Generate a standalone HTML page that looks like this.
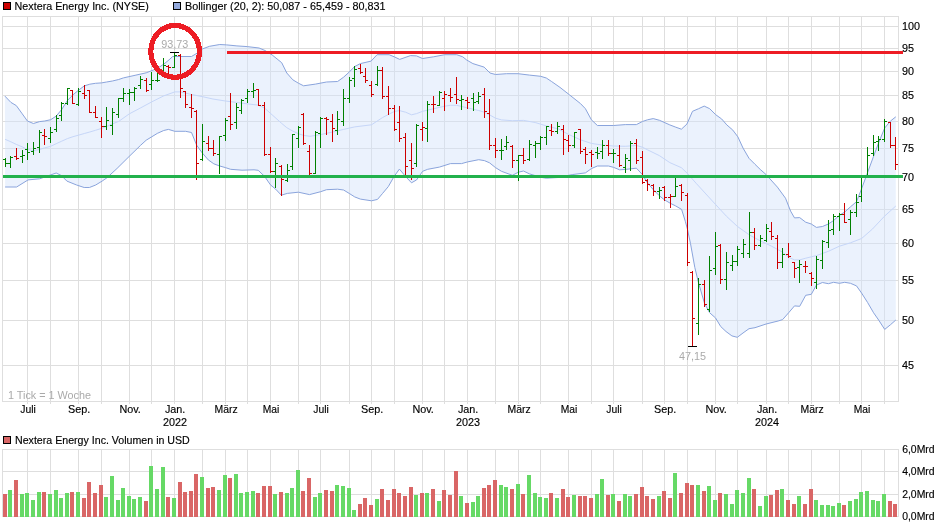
<!DOCTYPE html>
<html><head><meta charset="utf-8"><title>Nextera Energy Inc. Chart</title>
<style>html,body{margin:0;padding:0;background:#fff;}body{width:940px;height:526px;overflow:hidden;}svg{display:block;will-change:transform;font-family:"Liberation Sans",sans-serif;font-size:10.8px;}.g{stroke:#dedede;stroke-width:1;fill:none;shape-rendering:crispEdges}.bg{fill:#008000}.br{fill:#cc0000}.vg{fill:#66d966}.vr{fill:#d96666}</style></head><body>
<svg width="940" height="526" viewBox="0 0 940 526">
<rect x="0" y="0" width="940" height="526" fill="#fff"/>
<g class="g">
<line x1="2.5" y1="26.5" x2="898.5" y2="26.5"/>
<line x1="2.5" y1="48.5" x2="898.5" y2="48.5"/>
<line x1="2.5" y1="71.5" x2="898.5" y2="71.5"/>
<line x1="2.5" y1="95.5" x2="898.5" y2="95.5"/>
<line x1="2.5" y1="121.5" x2="898.5" y2="121.5"/>
<line x1="2.5" y1="148.5" x2="898.5" y2="148.5"/>
<line x1="2.5" y1="177.5" x2="898.5" y2="177.5"/>
<line x1="2.5" y1="209.5" x2="898.5" y2="209.5"/>
<line x1="2.5" y1="243.5" x2="898.5" y2="243.5"/>
<line x1="2.5" y1="280.5" x2="898.5" y2="280.5"/>
<line x1="2.5" y1="320.5" x2="898.5" y2="320.5"/>
<line x1="2.5" y1="365.5" x2="898.5" y2="365.5"/>
<line x1="27.5" y1="16.5" x2="27.5" y2="403.5"/>
<line x1="27.5" y1="449.5" x2="27.5" y2="516.5"/>
<line x1="50.5" y1="16.5" x2="50.5" y2="403.5"/>
<line x1="50.5" y1="449.5" x2="50.5" y2="516.5"/>
<line x1="78.5" y1="16.5" x2="78.5" y2="403.5"/>
<line x1="78.5" y1="449.5" x2="78.5" y2="516.5"/>
<line x1="101.5" y1="16.5" x2="101.5" y2="403.5"/>
<line x1="101.5" y1="449.5" x2="101.5" y2="516.5"/>
<line x1="129.5" y1="16.5" x2="129.5" y2="403.5"/>
<line x1="129.5" y1="449.5" x2="129.5" y2="516.5"/>
<line x1="151.5" y1="16.5" x2="151.5" y2="403.5"/>
<line x1="151.5" y1="449.5" x2="151.5" y2="516.5"/>
<line x1="174.5" y1="16.5" x2="174.5" y2="403.5"/>
<line x1="174.5" y1="449.5" x2="174.5" y2="516.5"/>
<line x1="202.5" y1="16.5" x2="202.5" y2="403.5"/>
<line x1="202.5" y1="449.5" x2="202.5" y2="516.5"/>
<line x1="225.5" y1="16.5" x2="225.5" y2="403.5"/>
<line x1="225.5" y1="449.5" x2="225.5" y2="516.5"/>
<line x1="247.5" y1="16.5" x2="247.5" y2="403.5"/>
<line x1="247.5" y1="449.5" x2="247.5" y2="516.5"/>
<line x1="270.5" y1="16.5" x2="270.5" y2="403.5"/>
<line x1="270.5" y1="449.5" x2="270.5" y2="516.5"/>
<line x1="298.5" y1="16.5" x2="298.5" y2="403.5"/>
<line x1="298.5" y1="449.5" x2="298.5" y2="516.5"/>
<line x1="320.5" y1="16.5" x2="320.5" y2="403.5"/>
<line x1="320.5" y1="449.5" x2="320.5" y2="516.5"/>
<line x1="349.5" y1="16.5" x2="349.5" y2="403.5"/>
<line x1="349.5" y1="449.5" x2="349.5" y2="516.5"/>
<line x1="371.5" y1="16.5" x2="371.5" y2="403.5"/>
<line x1="371.5" y1="449.5" x2="371.5" y2="516.5"/>
<line x1="394.5" y1="16.5" x2="394.5" y2="403.5"/>
<line x1="394.5" y1="449.5" x2="394.5" y2="516.5"/>
<line x1="422.5" y1="16.5" x2="422.5" y2="403.5"/>
<line x1="422.5" y1="449.5" x2="422.5" y2="516.5"/>
<line x1="444.5" y1="16.5" x2="444.5" y2="403.5"/>
<line x1="444.5" y1="449.5" x2="444.5" y2="516.5"/>
<line x1="467.5" y1="16.5" x2="467.5" y2="403.5"/>
<line x1="467.5" y1="449.5" x2="467.5" y2="516.5"/>
<line x1="495.5" y1="16.5" x2="495.5" y2="403.5"/>
<line x1="495.5" y1="449.5" x2="495.5" y2="516.5"/>
<line x1="518.5" y1="16.5" x2="518.5" y2="403.5"/>
<line x1="518.5" y1="449.5" x2="518.5" y2="516.5"/>
<line x1="540.5" y1="16.5" x2="540.5" y2="403.5"/>
<line x1="540.5" y1="449.5" x2="540.5" y2="516.5"/>
<line x1="568.5" y1="16.5" x2="568.5" y2="403.5"/>
<line x1="568.5" y1="449.5" x2="568.5" y2="516.5"/>
<line x1="591.5" y1="16.5" x2="591.5" y2="403.5"/>
<line x1="591.5" y1="449.5" x2="591.5" y2="516.5"/>
<line x1="613.5" y1="16.5" x2="613.5" y2="403.5"/>
<line x1="613.5" y1="449.5" x2="613.5" y2="516.5"/>
<line x1="642.5" y1="16.5" x2="642.5" y2="403.5"/>
<line x1="642.5" y1="449.5" x2="642.5" y2="516.5"/>
<line x1="664.5" y1="16.5" x2="664.5" y2="403.5"/>
<line x1="664.5" y1="449.5" x2="664.5" y2="516.5"/>
<line x1="687.5" y1="16.5" x2="687.5" y2="403.5"/>
<line x1="687.5" y1="449.5" x2="687.5" y2="516.5"/>
<line x1="715.5" y1="16.5" x2="715.5" y2="403.5"/>
<line x1="715.5" y1="449.5" x2="715.5" y2="516.5"/>
<line x1="737.5" y1="16.5" x2="737.5" y2="403.5"/>
<line x1="737.5" y1="449.5" x2="737.5" y2="516.5"/>
<line x1="766.5" y1="16.5" x2="766.5" y2="403.5"/>
<line x1="766.5" y1="449.5" x2="766.5" y2="516.5"/>
<line x1="788.5" y1="16.5" x2="788.5" y2="403.5"/>
<line x1="788.5" y1="449.5" x2="788.5" y2="516.5"/>
<line x1="811.5" y1="16.5" x2="811.5" y2="403.5"/>
<line x1="811.5" y1="449.5" x2="811.5" y2="516.5"/>
<line x1="839.5" y1="16.5" x2="839.5" y2="403.5"/>
<line x1="839.5" y1="449.5" x2="839.5" y2="516.5"/>
<line x1="861.5" y1="16.5" x2="861.5" y2="403.5"/>
<line x1="861.5" y1="449.5" x2="861.5" y2="516.5"/>
<line x1="884.5" y1="16.5" x2="884.5" y2="403.5"/>
<line x1="884.5" y1="449.5" x2="884.5" y2="516.5"/>
<rect x="2.5" y="16.5" width="896.0" height="385.0"/>
<line x1="2.5" y1="494.5" x2="898.5" y2="494.5"/>
<line x1="2.5" y1="471.5" x2="898.5" y2="471.5"/>
<rect x="2.5" y="449.5" width="896.0" height="67.0"/>
</g>
<polygon points="4.9,96.1 10.9,102.4 16.3,105.6 22.3,113.9 27.4,121.0 33.4,123.5 39.6,121.6 44.7,121.0 50.7,119.7 56.2,116.1 61.7,109.5 67.4,100.5 73.0,94.8 78.4,90.3 84.3,85.9 89.8,84.2 95.5,83.3 101.5,82.9 106.6,82.0 112.4,81.0 118.7,79.5 123.4,77.9 135.1,75.3 146.2,72.8 157.3,68.5 163.7,64.2 169.0,59.9 172.7,56.5 180.4,56.5 191.5,56.5 197.2,53.1 202.7,48.8 209.5,46.3 219.8,44.5 226.6,44.9 236.9,45.9 247.2,46.6 259.1,48.0 265.0,50.5 272.2,55.0 281.7,62.7 286.8,73.0 292.8,79.8 298.4,83.2 303.6,85.8 315.5,84.1 326.5,82.0 337.6,81.5 343.6,77.2 349.2,72.1 354.7,66.5 360.4,63.6 371.1,61.1 377.1,54.7 389.1,54.7 394.2,56.8 399.7,59.4 410.5,55.6 416.5,55.9 422.5,58.5 433.6,56.8 444.7,54.7 456.7,54.7 462.7,56.8 466.7,60.0 472.9,63.6 484.1,67.1 490.0,73.0 495.5,74.5 506.6,73.7 518.1,73.7 529.5,75.1 540.7,76.3 546.3,78.0 551.4,81.4 560.0,87.4 569.7,95.0 580.5,103.6 585.4,108.7 591.4,119.8 597.4,125.5 613.7,125.5 625.3,124.6 636.4,124.6 642.4,121.5 647.5,119.8 653.2,118.6 659.5,120.3 669.8,124.9 675.8,127.2 681.4,129.2 686.9,124.1 692.5,111.3 698.6,108.7 704.2,106.1 709.7,108.7 715.7,114.7 721.7,119.0 726.8,124.9 732.8,130.1 737.9,136.9 743.0,148.0 749.0,158.3 755.0,164.3 760.2,169.4 766.1,174.6 777.4,187.1 785.5,198.2 790.6,211.1 794.5,217.9 799.7,217.6 805.7,222.2 811.3,224.0 816.4,227.4 822.4,226.5 828.4,224.0 833.6,220.5 839.4,215.4 844.7,212.0 850.5,206.8 856.5,201.7 861.6,188.7 867.6,172.5 873.6,156.2 878.7,142.5 884.7,128.0 890.4,121.1 895.8,116.8 895.8,320.0 890.4,324.8 884.7,329.4 878.7,320.1 873.6,312.8 867.6,302.5 861.6,293.1 856.5,285.9 850.5,283.3 844.7,282.3 839.4,283.3 833.6,282.3 828.4,283.7 822.4,282.5 816.4,285.1 811.3,294.3 805.7,295.3 799.7,306.3 794.5,305.9 788.6,312.8 782.6,319.6 778.1,321.0 766.1,324.0 755.0,327.7 749.0,328.7 743.0,333.0 737.3,337.3 731.9,335.9 726.0,331.5 720.7,326.5 715.6,318.0 709.6,312.7 704.5,303.3 698.5,282.8 694.8,267.4 690.5,243.6 687.4,229.0 685.3,221.3 681.6,209.4 675.6,205.9 670.5,203.4 664.5,199.9 659.3,195.7 653.3,189.7 647.4,182.8 642.4,174.6 636.4,168.2 625.3,169.4 619.6,169.8 613.7,167.4 608.5,166.0 597.4,166.0 591.4,168.6 585.4,172.9 572.2,174.6 558.0,177.5 546.3,178.2 540.7,177.3 535.2,175.6 529.5,173.9 523.5,171.0 518.4,172.2 512.4,175.3 501.5,171.3 495.5,167.6 489.5,162.8 484.4,160.6 478.7,159.7 467.6,161.9 461.6,163.6 450.5,163.6 439.4,167.1 427.7,169.3 422.6,171.3 416.6,179.9 411.5,182.8 405.6,176.5 399.4,169.1 394.2,176.3 388.3,186.6 382.6,193.4 377.5,199.4 371.5,200.8 360.4,199.1 354.7,196.9 349.2,193.4 343.6,190.0 337.6,189.2 326.5,189.7 320.7,191.7 309.5,194.6 298.4,192.2 287.3,193.4 281.3,195.2 275.7,189.2 270.5,184.9 264.5,176.3 258.2,170.3 254.0,169.8 242.0,170.2 230.6,169.3 225.4,167.6 219.4,165.9 213.8,163.8 208.3,159.9 202.3,153.0 196.7,145.3 191.5,132.5 185.6,131.3 174.8,131.3 168.4,129.4 163.7,130.5 157.3,133.4 146.2,140.2 140.6,145.3 129.1,156.5 117.1,168.4 106.8,177.9 102.1,181.1 95.7,185.0 89.4,187.5 84.2,187.5 76.6,185.0 66.9,181.1 61.3,175.5 56.2,173.0 51.0,174.8 39.6,178.8 28.1,179.9 16.6,187.0 5.1,187.0" fill="#d3e2fa" fill-opacity="0.455" stroke="none"/>
<polyline points="5.1,139.3 10.9,141.8 16.3,144.4 22.3,146.9 27.4,149.5 33.4,150.7 39.6,149.5 44.7,147.9 50.7,146.3 56.2,143.7 61.7,141.2 67.4,138.6 73.0,136.7 78.4,135.2 84.3,133.5 89.8,132.0 95.5,130.3 101.5,128.4 106.6,126.5 112.4,123.9 118.7,121.4 129.4,113.8 140.6,107.9 151.7,101.9 163.7,95.9 174.8,91.9 180.4,91.9 191.5,94.5 202.7,96.7 212.9,99.0 225.4,101.0 236.4,102.4 247.5,103.9 258.2,105.1 264.5,108.0 272.2,114.9 281.7,123.4 286.8,127.7 292.8,131.1 298.4,133.7 303.6,135.4 309.9,136.3 320.7,134.6 332.6,132.0 343.6,129.4 354.7,126.9 371.5,124.8 382.6,117.5 394.2,111.5 399.4,110.6 405.6,112.2 411.5,114.8 416.6,113.6 422.6,111.3 433.4,108.8 444.5,106.2 450.5,105.3 456.5,105.3 467.6,107.9 478.7,110.5 484.4,112.2 489.5,114.8 495.5,118.2 501.5,119.9 512.4,120.7 523.5,120.4 535.2,122.5 546.3,125.9 558.6,129.0 568.5,134.4 580.5,139.8 591.4,143.4 602.5,145.1 613.7,146.0 625.3,146.3 636.4,145.5 642.4,147.2 647.5,149.8 659.5,155.7 669.8,162.6 681.4,167.7 686.9,172.9 696.5,183.7 715.3,204.2 726.4,216.2 737.5,226.5 749.5,235.0 760.6,241.0 771.4,246.1 782.5,252.1 788.6,257.3 794.5,259.9 799.7,259.9 805.7,258.2 816.4,255.6 828.4,251.3 839.4,246.2 850.5,242.8 861.6,238.5 872.4,229.1 884.4,216.3 895.8,206.0" fill="none" stroke="#c6d6f8" stroke-width="1"/>
<polyline points="4.9,96.1 10.9,102.4 16.3,105.6 22.3,113.9 27.4,121.0 33.4,123.5 39.6,121.6 44.7,121.0 50.7,119.7 56.2,116.1 61.7,109.5 67.4,100.5 73.0,94.8 78.4,90.3 84.3,85.9 89.8,84.2 95.5,83.3 101.5,82.9 106.6,82.0 112.4,81.0 118.7,79.5 123.4,77.9 135.1,75.3 146.2,72.8 157.3,68.5 163.7,64.2 169.0,59.9 172.7,56.5 180.4,56.5 191.5,56.5 197.2,53.1 202.7,48.8 209.5,46.3 219.8,44.5 226.6,44.9 236.9,45.9 247.2,46.6 259.1,48.0 265.0,50.5 272.2,55.0 281.7,62.7 286.8,73.0 292.8,79.8 298.4,83.2 303.6,85.8 315.5,84.1 326.5,82.0 337.6,81.5 343.6,77.2 349.2,72.1 354.7,66.5 360.4,63.6 371.1,61.1 377.1,54.7 389.1,54.7 394.2,56.8 399.7,59.4 410.5,55.6 416.5,55.9 422.5,58.5 433.6,56.8 444.7,54.7 456.7,54.7 462.7,56.8 466.7,60.0 472.9,63.6 484.1,67.1 490.0,73.0 495.5,74.5 506.6,73.7 518.1,73.7 529.5,75.1 540.7,76.3 546.3,78.0 551.4,81.4 560.0,87.4 569.7,95.0 580.5,103.6 585.4,108.7 591.4,119.8 597.4,125.5 613.7,125.5 625.3,124.6 636.4,124.6 642.4,121.5 647.5,119.8 653.2,118.6 659.5,120.3 669.8,124.9 675.8,127.2 681.4,129.2 686.9,124.1 692.5,111.3 698.6,108.7 704.2,106.1 709.7,108.7 715.7,114.7 721.7,119.0 726.8,124.9 732.8,130.1 737.9,136.9 743.0,148.0 749.0,158.3 755.0,164.3 760.2,169.4 766.1,174.6 777.4,187.1 785.5,198.2 790.6,211.1 794.5,217.9 799.7,217.6 805.7,222.2 811.3,224.0 816.4,227.4 822.4,226.5 828.4,224.0 833.6,220.5 839.4,215.4 844.7,212.0 850.5,206.8 856.5,201.7 861.6,188.7 867.6,172.5 873.6,156.2 878.7,142.5 884.7,128.0 890.4,121.1 895.8,116.8" fill="none" stroke="#8aa4dc" stroke-width="1"/>
<polyline points="5.1,187.0 16.6,187.0 28.1,179.9 39.6,178.8 51.0,174.8 56.2,173.0 61.3,175.5 66.9,181.1 76.6,185.0 84.2,187.5 89.4,187.5 95.7,185.0 102.1,181.1 106.8,177.9 117.1,168.4 129.1,156.5 140.6,145.3 146.2,140.2 157.3,133.4 163.7,130.5 168.4,129.4 174.8,131.3 185.6,131.3 191.5,132.5 196.7,145.3 202.3,153.0 208.3,159.9 213.8,163.8 219.4,165.9 225.4,167.6 230.6,169.3 242.0,170.2 254.0,169.8 258.2,170.3 264.5,176.3 270.5,184.9 275.7,189.2 281.3,195.2 287.3,193.4 298.4,192.2 309.5,194.6 320.7,191.7 326.5,189.7 337.6,189.2 343.6,190.0 349.2,193.4 354.7,196.9 360.4,199.1 371.5,200.8 377.5,199.4 382.6,193.4 388.3,186.6 394.2,176.3 399.4,169.1 405.6,176.5 411.5,182.8 416.6,179.9 422.6,171.3 427.7,169.3 439.4,167.1 450.5,163.6 461.6,163.6 467.6,161.9 478.7,159.7 484.4,160.6 489.5,162.8 495.5,167.6 501.5,171.3 512.4,175.3 518.4,172.2 523.5,171.0 529.5,173.9 535.2,175.6 540.7,177.3 546.3,178.2 558.0,177.5 572.2,174.6 585.4,172.9 591.4,168.6 597.4,166.0 608.5,166.0 613.7,167.4 619.6,169.8 625.3,169.4 636.4,168.2 642.4,174.6 647.4,182.8 653.3,189.7 659.3,195.7 664.5,199.9 670.5,203.4 675.6,205.9 681.6,209.4 685.3,221.3 687.4,229.0 690.5,243.6 694.8,267.4 698.5,282.8 704.5,303.3 709.6,312.7 715.6,318.0 720.7,326.5 726.0,331.5 731.9,335.9 737.3,337.3 743.0,333.0 749.0,328.7 755.0,327.7 766.1,324.0 778.1,321.0 782.6,319.6 788.6,312.8 794.5,305.9 799.7,306.3 805.7,295.3 811.3,294.3 816.4,285.1 822.4,282.5 828.4,283.7 833.6,282.3 839.4,283.3 844.7,282.3 850.5,283.3 856.5,285.9 861.6,293.1 867.6,302.5 873.6,312.8 878.7,320.1 884.7,329.4 890.4,324.8 895.8,320.0" fill="none" stroke="#8aa4dc" stroke-width="1"/>
<g shape-rendering="crispEdges">
<rect class="bg" x="5" y="158" width="1" height="9"/>
<rect class="bg" x="3" y="159" width="2" height="1"/>
<rect class="bg" x="6" y="163" width="2" height="1"/>
<rect class="bg" x="10" y="156" width="1" height="12"/>
<rect class="bg" x="8" y="163" width="2" height="1"/>
<rect class="bg" x="11" y="157" width="2" height="1"/>
<rect class="br" x="16" y="148" width="1" height="12"/>
<rect class="br" x="14" y="156" width="2" height="1"/>
<rect class="br" x="17" y="158" width="2" height="1"/>
<rect class="bg" x="22" y="150" width="1" height="13"/>
<rect class="bg" x="20" y="156" width="2" height="1"/>
<rect class="bg" x="23" y="155" width="2" height="1"/>
<rect class="bg" x="27" y="143" width="1" height="17"/>
<rect class="bg" x="25" y="149" width="2" height="1"/>
<rect class="bg" x="28" y="152" width="2" height="1"/>
<rect class="bg" x="33" y="142" width="1" height="13"/>
<rect class="bg" x="31" y="151" width="2" height="1"/>
<rect class="bg" x="34" y="148" width="2" height="1"/>
<rect class="bg" x="39" y="130" width="1" height="23"/>
<rect class="bg" x="37" y="147" width="2" height="1"/>
<rect class="bg" x="40" y="132" width="2" height="1"/>
<rect class="br" x="44" y="129" width="1" height="16"/>
<rect class="br" x="42" y="135" width="2" height="1"/>
<rect class="br" x="45" y="136" width="2" height="1"/>
<rect class="bg" x="50" y="127" width="1" height="16"/>
<rect class="bg" x="48" y="138" width="2" height="1"/>
<rect class="bg" x="51" y="132" width="2" height="1"/>
<rect class="bg" x="56" y="115" width="1" height="17"/>
<rect class="bg" x="54" y="129" width="2" height="1"/>
<rect class="bg" x="57" y="118" width="2" height="1"/>
<rect class="bg" x="61" y="102" width="1" height="19"/>
<rect class="bg" x="59" y="115" width="2" height="1"/>
<rect class="bg" x="62" y="103" width="2" height="1"/>
<rect class="bg" x="67" y="88" width="1" height="17"/>
<rect class="bg" x="65" y="103" width="2" height="1"/>
<rect class="bg" x="68" y="88" width="2" height="1"/>
<rect class="br" x="72" y="90" width="1" height="14"/>
<rect class="br" x="70" y="90" width="2" height="1"/>
<rect class="br" x="73" y="103" width="2" height="1"/>
<rect class="bg" x="78" y="88" width="1" height="18"/>
<rect class="bg" x="76" y="104" width="2" height="1"/>
<rect class="bg" x="79" y="91" width="2" height="1"/>
<rect class="br" x="84" y="85" width="1" height="14"/>
<rect class="br" x="82" y="93" width="2" height="1"/>
<rect class="br" x="85" y="95" width="2" height="1"/>
<rect class="br" x="89" y="90" width="1" height="23"/>
<rect class="br" x="87" y="90" width="2" height="1"/>
<rect class="br" x="90" y="112" width="2" height="1"/>
<rect class="br" x="95" y="106" width="1" height="12"/>
<rect class="br" x="93" y="112" width="2" height="1"/>
<rect class="br" x="96" y="117" width="2" height="1"/>
<rect class="br" x="101" y="117" width="1" height="21"/>
<rect class="br" x="99" y="121" width="2" height="1"/>
<rect class="br" x="102" y="126" width="2" height="1"/>
<rect class="bg" x="106" y="107" width="1" height="23"/>
<rect class="bg" x="104" y="126" width="2" height="1"/>
<rect class="bg" x="107" y="120" width="2" height="1"/>
<rect class="bg" x="112" y="108" width="1" height="27"/>
<rect class="bg" x="110" y="125" width="2" height="1"/>
<rect class="bg" x="113" y="112" width="2" height="1"/>
<rect class="bg" x="118" y="98" width="1" height="20"/>
<rect class="bg" x="116" y="114" width="2" height="1"/>
<rect class="bg" x="119" y="98" width="2" height="1"/>
<rect class="bg" x="123" y="88" width="1" height="14"/>
<rect class="bg" x="121" y="98" width="2" height="1"/>
<rect class="bg" x="124" y="93" width="2" height="1"/>
<rect class="bg" x="129" y="89" width="1" height="16"/>
<rect class="bg" x="127" y="93" width="2" height="1"/>
<rect class="bg" x="130" y="92" width="2" height="1"/>
<rect class="bg" x="134" y="87" width="1" height="14"/>
<rect class="bg" x="132" y="92" width="2" height="1"/>
<rect class="bg" x="135" y="88" width="2" height="1"/>
<rect class="bg" x="140" y="76" width="1" height="13"/>
<rect class="bg" x="138" y="85" width="2" height="1"/>
<rect class="bg" x="141" y="79" width="2" height="1"/>
<rect class="br" x="146" y="78" width="1" height="14"/>
<rect class="br" x="144" y="80" width="2" height="1"/>
<rect class="br" x="147" y="90" width="2" height="1"/>
<rect class="bg" x="151" y="72" width="1" height="18"/>
<rect class="bg" x="149" y="84" width="2" height="1"/>
<rect class="bg" x="152" y="80" width="2" height="1"/>
<rect class="bg" x="157" y="71" width="1" height="11"/>
<rect class="bg" x="155" y="80" width="2" height="1"/>
<rect class="bg" x="158" y="80" width="2" height="1"/>
<rect class="bg" x="163" y="58" width="1" height="16"/>
<rect class="bg" x="161" y="72" width="2" height="1"/>
<rect class="bg" x="164" y="65" width="2" height="1"/>
<rect class="br" x="168" y="65" width="1" height="9"/>
<rect class="br" x="166" y="66" width="2" height="1"/>
<rect class="br" x="169" y="67" width="2" height="1"/>
<rect class="bg" x="174" y="52" width="1" height="16"/>
<rect class="bg" x="172" y="67" width="2" height="1"/>
<rect class="bg" x="175" y="55" width="2" height="1"/>
<rect class="br" x="180" y="54" width="1" height="44"/>
<rect class="br" x="178" y="55" width="2" height="1"/>
<rect class="br" x="181" y="88" width="2" height="1"/>
<rect class="br" x="185" y="91" width="1" height="17"/>
<rect class="br" x="183" y="91" width="2" height="1"/>
<rect class="br" x="186" y="104" width="2" height="1"/>
<rect class="br" x="191" y="94" width="1" height="24"/>
<rect class="br" x="189" y="107" width="2" height="1"/>
<rect class="br" x="192" y="108" width="2" height="1"/>
<rect class="br" x="196" y="110" width="1" height="70"/>
<rect class="br" x="194" y="111" width="2" height="1"/>
<rect class="br" x="197" y="163" width="2" height="1"/>
<rect class="bg" x="202" y="124" width="1" height="37"/>
<rect class="bg" x="200" y="159" width="2" height="1"/>
<rect class="bg" x="203" y="141" width="2" height="1"/>
<rect class="br" x="208" y="136" width="1" height="15"/>
<rect class="br" x="206" y="143" width="2" height="1"/>
<rect class="br" x="209" y="148" width="2" height="1"/>
<rect class="br" x="213" y="140" width="1" height="16"/>
<rect class="br" x="211" y="148" width="2" height="1"/>
<rect class="br" x="214" y="153" width="2" height="1"/>
<rect class="bg" x="219" y="136" width="1" height="38"/>
<rect class="bg" x="217" y="154" width="2" height="1"/>
<rect class="bg" x="220" y="136" width="2" height="1"/>
<rect class="bg" x="225" y="118" width="1" height="23"/>
<rect class="bg" x="223" y="135" width="2" height="1"/>
<rect class="bg" x="226" y="120" width="2" height="1"/>
<rect class="br" x="230" y="93" width="1" height="37"/>
<rect class="br" x="228" y="116" width="2" height="1"/>
<rect class="br" x="231" y="124" width="2" height="1"/>
<rect class="bg" x="236" y="103" width="1" height="26"/>
<rect class="bg" x="234" y="122" width="2" height="1"/>
<rect class="bg" x="237" y="107" width="2" height="1"/>
<rect class="bg" x="241" y="99" width="1" height="15"/>
<rect class="bg" x="239" y="110" width="2" height="1"/>
<rect class="bg" x="242" y="100" width="2" height="1"/>
<rect class="bg" x="247" y="89" width="1" height="14"/>
<rect class="bg" x="245" y="98" width="2" height="1"/>
<rect class="bg" x="248" y="91" width="2" height="1"/>
<rect class="bg" x="253" y="83" width="1" height="15"/>
<rect class="bg" x="251" y="91" width="2" height="1"/>
<rect class="bg" x="254" y="90" width="2" height="1"/>
<rect class="br" x="258" y="89" width="1" height="17"/>
<rect class="br" x="256" y="89" width="2" height="1"/>
<rect class="br" x="259" y="105" width="2" height="1"/>
<rect class="br" x="264" y="102" width="1" height="54"/>
<rect class="br" x="262" y="105" width="2" height="1"/>
<rect class="br" x="265" y="154" width="2" height="1"/>
<rect class="br" x="270" y="147" width="1" height="26"/>
<rect class="br" x="268" y="154" width="2" height="1"/>
<rect class="br" x="271" y="171" width="2" height="1"/>
<rect class="bg" x="275" y="158" width="1" height="30"/>
<rect class="bg" x="273" y="171" width="2" height="1"/>
<rect class="bg" x="276" y="163" width="2" height="1"/>
<rect class="br" x="281" y="165" width="1" height="31"/>
<rect class="br" x="279" y="166" width="2" height="1"/>
<rect class="br" x="282" y="179" width="2" height="1"/>
<rect class="bg" x="287" y="164" width="1" height="18"/>
<rect class="bg" x="285" y="180" width="2" height="1"/>
<rect class="bg" x="288" y="170" width="2" height="1"/>
<rect class="bg" x="292" y="134" width="1" height="36"/>
<rect class="bg" x="290" y="166" width="2" height="1"/>
<rect class="bg" x="293" y="134" width="2" height="1"/>
<rect class="bg" x="298" y="126" width="1" height="22"/>
<rect class="bg" x="296" y="138" width="2" height="1"/>
<rect class="bg" x="299" y="127" width="2" height="1"/>
<rect class="br" x="303" y="113" width="1" height="32"/>
<rect class="br" x="301" y="114" width="2" height="1"/>
<rect class="br" x="304" y="143" width="2" height="1"/>
<rect class="br" x="309" y="145" width="1" height="30"/>
<rect class="br" x="307" y="151" width="2" height="1"/>
<rect class="br" x="310" y="173" width="2" height="1"/>
<rect class="bg" x="315" y="131" width="1" height="43"/>
<rect class="bg" x="313" y="173" width="2" height="1"/>
<rect class="bg" x="316" y="132" width="2" height="1"/>
<rect class="bg" x="320" y="117" width="1" height="31"/>
<rect class="bg" x="318" y="133" width="2" height="1"/>
<rect class="bg" x="321" y="118" width="2" height="1"/>
<rect class="br" x="326" y="117" width="1" height="18"/>
<rect class="br" x="324" y="118" width="2" height="1"/>
<rect class="br" x="327" y="119" width="2" height="1"/>
<rect class="br" x="332" y="114" width="1" height="28"/>
<rect class="br" x="330" y="121" width="2" height="1"/>
<rect class="br" x="333" y="128" width="2" height="1"/>
<rect class="bg" x="337" y="111" width="1" height="24"/>
<rect class="bg" x="335" y="130" width="2" height="1"/>
<rect class="bg" x="338" y="119" width="2" height="1"/>
<rect class="bg" x="343" y="89" width="1" height="37"/>
<rect class="bg" x="341" y="121" width="2" height="1"/>
<rect class="bg" x="344" y="98" width="2" height="1"/>
<rect class="bg" x="349" y="77" width="1" height="26"/>
<rect class="bg" x="347" y="98" width="2" height="1"/>
<rect class="bg" x="350" y="80" width="2" height="1"/>
<rect class="bg" x="354" y="66" width="1" height="21"/>
<rect class="bg" x="352" y="78" width="2" height="1"/>
<rect class="bg" x="355" y="69" width="2" height="1"/>
<rect class="br" x="360" y="64" width="1" height="10"/>
<rect class="br" x="358" y="68" width="2" height="1"/>
<rect class="br" x="361" y="72" width="2" height="1"/>
<rect class="br" x="365" y="68" width="1" height="15"/>
<rect class="br" x="363" y="76" width="2" height="1"/>
<rect class="br" x="366" y="80" width="2" height="1"/>
<rect class="br" x="371" y="81" width="1" height="16"/>
<rect class="br" x="369" y="85" width="2" height="1"/>
<rect class="br" x="372" y="94" width="2" height="1"/>
<rect class="bg" x="377" y="66" width="1" height="20"/>
<rect class="bg" x="375" y="84" width="2" height="1"/>
<rect class="bg" x="378" y="70" width="2" height="1"/>
<rect class="br" x="382" y="67" width="1" height="32"/>
<rect class="br" x="380" y="70" width="2" height="1"/>
<rect class="br" x="383" y="96" width="2" height="1"/>
<rect class="br" x="388" y="86" width="1" height="29"/>
<rect class="br" x="386" y="96" width="2" height="1"/>
<rect class="br" x="389" y="108" width="2" height="1"/>
<rect class="br" x="394" y="105" width="1" height="26"/>
<rect class="br" x="392" y="108" width="2" height="1"/>
<rect class="br" x="395" y="129" width="2" height="1"/>
<rect class="br" x="399" y="106" width="1" height="36"/>
<rect class="br" x="397" y="122" width="2" height="1"/>
<rect class="br" x="400" y="138" width="2" height="1"/>
<rect class="br" x="405" y="133" width="1" height="42"/>
<rect class="br" x="403" y="137" width="2" height="1"/>
<rect class="br" x="406" y="166" width="2" height="1"/>
<rect class="br" x="411" y="143" width="1" height="37"/>
<rect class="br" x="409" y="160" width="2" height="1"/>
<rect class="br" x="412" y="168" width="2" height="1"/>
<rect class="bg" x="416" y="124" width="1" height="43"/>
<rect class="bg" x="414" y="163" width="2" height="1"/>
<rect class="bg" x="417" y="125" width="2" height="1"/>
<rect class="br" x="422" y="122" width="1" height="19"/>
<rect class="br" x="420" y="129" width="2" height="1"/>
<rect class="br" x="423" y="127" width="2" height="1"/>
<rect class="bg" x="427" y="101" width="1" height="41"/>
<rect class="bg" x="425" y="128" width="2" height="1"/>
<rect class="bg" x="428" y="104" width="2" height="1"/>
<rect class="br" x="433" y="96" width="1" height="17"/>
<rect class="br" x="431" y="104" width="2" height="1"/>
<rect class="br" x="434" y="104" width="2" height="1"/>
<rect class="bg" x="439" y="91" width="1" height="15"/>
<rect class="bg" x="437" y="105" width="2" height="1"/>
<rect class="bg" x="440" y="92" width="2" height="1"/>
<rect class="br" x="444" y="91" width="1" height="20"/>
<rect class="br" x="442" y="98" width="2" height="1"/>
<rect class="br" x="445" y="94" width="2" height="1"/>
<rect class="br" x="450" y="88" width="1" height="14"/>
<rect class="br" x="448" y="95" width="2" height="1"/>
<rect class="br" x="451" y="97" width="2" height="1"/>
<rect class="br" x="456" y="77" width="1" height="27"/>
<rect class="br" x="454" y="94" width="2" height="1"/>
<rect class="br" x="457" y="99" width="2" height="1"/>
<rect class="bg" x="461" y="95" width="1" height="15"/>
<rect class="bg" x="459" y="100" width="2" height="1"/>
<rect class="bg" x="462" y="99" width="2" height="1"/>
<rect class="br" x="467" y="97" width="1" height="12"/>
<rect class="br" x="465" y="100" width="2" height="1"/>
<rect class="br" x="468" y="102" width="2" height="1"/>
<rect class="bg" x="473" y="93" width="1" height="18"/>
<rect class="bg" x="471" y="98" width="2" height="1"/>
<rect class="bg" x="474" y="102" width="2" height="1"/>
<rect class="bg" x="478" y="92" width="1" height="12"/>
<rect class="bg" x="476" y="101" width="2" height="1"/>
<rect class="bg" x="479" y="96" width="2" height="1"/>
<rect class="br" x="484" y="88" width="1" height="30"/>
<rect class="br" x="482" y="94" width="2" height="1"/>
<rect class="br" x="485" y="111" width="2" height="1"/>
<rect class="br" x="489" y="99" width="1" height="51"/>
<rect class="br" x="487" y="113" width="2" height="1"/>
<rect class="br" x="490" y="145" width="2" height="1"/>
<rect class="br" x="495" y="138" width="1" height="20"/>
<rect class="br" x="493" y="145" width="2" height="1"/>
<rect class="br" x="496" y="150" width="2" height="1"/>
<rect class="bg" x="501" y="139" width="1" height="21"/>
<rect class="bg" x="499" y="150" width="2" height="1"/>
<rect class="bg" x="502" y="150" width="2" height="1"/>
<rect class="bg" x="506" y="136" width="1" height="14"/>
<rect class="bg" x="504" y="146" width="2" height="1"/>
<rect class="bg" x="507" y="142" width="2" height="1"/>
<rect class="br" x="512" y="145" width="1" height="23"/>
<rect class="br" x="510" y="146" width="2" height="1"/>
<rect class="br" x="513" y="160" width="2" height="1"/>
<rect class="bg" x="518" y="155" width="1" height="26"/>
<rect class="bg" x="516" y="160" width="2" height="1"/>
<rect class="bg" x="519" y="155" width="2" height="1"/>
<rect class="br" x="523" y="148" width="1" height="16"/>
<rect class="br" x="521" y="155" width="2" height="1"/>
<rect class="br" x="524" y="160" width="2" height="1"/>
<rect class="bg" x="529" y="140" width="1" height="21"/>
<rect class="bg" x="527" y="159" width="2" height="1"/>
<rect class="bg" x="530" y="144" width="2" height="1"/>
<rect class="bg" x="535" y="141" width="1" height="17"/>
<rect class="bg" x="533" y="145" width="2" height="1"/>
<rect class="bg" x="536" y="143" width="2" height="1"/>
<rect class="bg" x="540" y="136" width="1" height="14"/>
<rect class="bg" x="538" y="143" width="2" height="1"/>
<rect class="bg" x="541" y="137" width="2" height="1"/>
<rect class="bg" x="546" y="126" width="1" height="19"/>
<rect class="bg" x="544" y="137" width="2" height="1"/>
<rect class="bg" x="547" y="126" width="2" height="1"/>
<rect class="br" x="551" y="124" width="1" height="12"/>
<rect class="br" x="549" y="130" width="2" height="1"/>
<rect class="br" x="552" y="131" width="2" height="1"/>
<rect class="bg" x="557" y="122" width="1" height="12"/>
<rect class="bg" x="555" y="131" width="2" height="1"/>
<rect class="bg" x="558" y="126" width="2" height="1"/>
<rect class="br" x="563" y="125" width="1" height="30"/>
<rect class="br" x="561" y="129" width="2" height="1"/>
<rect class="br" x="564" y="139" width="2" height="1"/>
<rect class="br" x="568" y="135" width="1" height="17"/>
<rect class="br" x="566" y="140" width="2" height="1"/>
<rect class="br" x="569" y="145" width="2" height="1"/>
<rect class="bg" x="574" y="132" width="1" height="16"/>
<rect class="bg" x="572" y="145" width="2" height="1"/>
<rect class="bg" x="575" y="132" width="2" height="1"/>
<rect class="br" x="580" y="129" width="1" height="25"/>
<rect class="br" x="578" y="129" width="2" height="1"/>
<rect class="br" x="581" y="151" width="2" height="1"/>
<rect class="br" x="585" y="147" width="1" height="17"/>
<rect class="br" x="583" y="149" width="2" height="1"/>
<rect class="br" x="586" y="154" width="2" height="1"/>
<rect class="br" x="591" y="150" width="1" height="17"/>
<rect class="br" x="589" y="152" width="2" height="1"/>
<rect class="br" x="592" y="154" width="2" height="1"/>
<rect class="bg" x="597" y="147" width="1" height="12"/>
<rect class="bg" x="595" y="152" width="2" height="1"/>
<rect class="bg" x="598" y="153" width="2" height="1"/>
<rect class="bg" x="602" y="140" width="1" height="19"/>
<rect class="bg" x="600" y="151" width="2" height="1"/>
<rect class="bg" x="603" y="145" width="2" height="1"/>
<rect class="br" x="608" y="140" width="1" height="16"/>
<rect class="br" x="606" y="145" width="2" height="1"/>
<rect class="br" x="609" y="153" width="2" height="1"/>
<rect class="bg" x="613" y="149" width="1" height="14"/>
<rect class="bg" x="611" y="153" width="2" height="1"/>
<rect class="bg" x="614" y="153" width="2" height="1"/>
<rect class="br" x="619" y="145" width="1" height="22"/>
<rect class="br" x="617" y="155" width="2" height="1"/>
<rect class="br" x="620" y="165" width="2" height="1"/>
<rect class="bg" x="625" y="154" width="1" height="19"/>
<rect class="bg" x="623" y="167" width="2" height="1"/>
<rect class="bg" x="626" y="158" width="2" height="1"/>
<rect class="bg" x="630" y="141" width="1" height="30"/>
<rect class="bg" x="628" y="160" width="2" height="1"/>
<rect class="bg" x="631" y="143" width="2" height="1"/>
<rect class="br" x="636" y="139" width="1" height="25"/>
<rect class="br" x="634" y="143" width="2" height="1"/>
<rect class="br" x="637" y="160" width="2" height="1"/>
<rect class="br" x="642" y="151" width="1" height="33"/>
<rect class="br" x="640" y="157" width="2" height="1"/>
<rect class="br" x="643" y="182" width="2" height="1"/>
<rect class="br" x="647" y="179" width="1" height="12"/>
<rect class="br" x="645" y="180" width="2" height="1"/>
<rect class="br" x="648" y="184" width="2" height="1"/>
<rect class="br" x="653" y="184" width="1" height="12"/>
<rect class="br" x="651" y="185" width="2" height="1"/>
<rect class="br" x="654" y="191" width="2" height="1"/>
<rect class="bg" x="659" y="187" width="1" height="12"/>
<rect class="bg" x="657" y="191" width="2" height="1"/>
<rect class="bg" x="660" y="190" width="2" height="1"/>
<rect class="br" x="664" y="186" width="1" height="15"/>
<rect class="br" x="662" y="187" width="2" height="1"/>
<rect class="br" x="665" y="197" width="2" height="1"/>
<rect class="br" x="670" y="194" width="1" height="14"/>
<rect class="br" x="668" y="197" width="2" height="1"/>
<rect class="br" x="671" y="196" width="2" height="1"/>
<rect class="bg" x="675" y="178" width="1" height="19"/>
<rect class="bg" x="673" y="196" width="2" height="1"/>
<rect class="bg" x="676" y="186" width="2" height="1"/>
<rect class="br" x="681" y="184" width="1" height="17"/>
<rect class="br" x="679" y="185" width="2" height="1"/>
<rect class="br" x="682" y="192" width="2" height="1"/>
<rect class="br" x="687" y="193" width="1" height="73"/>
<rect class="br" x="685" y="195" width="2" height="1"/>
<rect class="br" x="688" y="262" width="2" height="1"/>
<rect class="br" x="692" y="271" width="1" height="75"/>
<rect class="br" x="690" y="272" width="2" height="1"/>
<rect class="br" x="693" y="318" width="2" height="1"/>
<rect class="bg" x="698" y="278" width="1" height="57"/>
<rect class="bg" x="696" y="323" width="2" height="1"/>
<rect class="bg" x="699" y="284" width="2" height="1"/>
<rect class="br" x="704" y="280" width="1" height="27"/>
<rect class="br" x="702" y="284" width="2" height="1"/>
<rect class="br" x="705" y="304" width="2" height="1"/>
<rect class="bg" x="709" y="256" width="1" height="56"/>
<rect class="bg" x="707" y="309" width="2" height="1"/>
<rect class="bg" x="710" y="270" width="2" height="1"/>
<rect class="bg" x="715" y="232" width="1" height="43"/>
<rect class="bg" x="713" y="268" width="2" height="1"/>
<rect class="bg" x="716" y="246" width="2" height="1"/>
<rect class="br" x="720" y="244" width="1" height="40"/>
<rect class="br" x="718" y="245" width="2" height="1"/>
<rect class="br" x="721" y="279" width="2" height="1"/>
<rect class="bg" x="726" y="252" width="1" height="38"/>
<rect class="bg" x="724" y="279" width="2" height="1"/>
<rect class="bg" x="727" y="262" width="2" height="1"/>
<rect class="bg" x="732" y="255" width="1" height="16"/>
<rect class="bg" x="730" y="265" width="2" height="1"/>
<rect class="bg" x="733" y="261" width="2" height="1"/>
<rect class="bg" x="737" y="246" width="1" height="20"/>
<rect class="bg" x="735" y="261" width="2" height="1"/>
<rect class="bg" x="738" y="249" width="2" height="1"/>
<rect class="bg" x="743" y="239" width="1" height="19"/>
<rect class="bg" x="741" y="253" width="2" height="1"/>
<rect class="bg" x="744" y="244" width="2" height="1"/>
<rect class="bg" x="749" y="212" width="1" height="46"/>
<rect class="bg" x="747" y="253" width="2" height="1"/>
<rect class="bg" x="750" y="232" width="2" height="1"/>
<rect class="br" x="754" y="228" width="1" height="22"/>
<rect class="br" x="752" y="232" width="2" height="1"/>
<rect class="br" x="755" y="245" width="2" height="1"/>
<rect class="bg" x="760" y="235" width="1" height="12"/>
<rect class="bg" x="758" y="245" width="2" height="1"/>
<rect class="bg" x="761" y="238" width="2" height="1"/>
<rect class="bg" x="766" y="224" width="1" height="18"/>
<rect class="bg" x="764" y="240" width="2" height="1"/>
<rect class="bg" x="767" y="228" width="2" height="1"/>
<rect class="br" x="771" y="222" width="1" height="18"/>
<rect class="br" x="769" y="231" width="2" height="1"/>
<rect class="br" x="772" y="236" width="2" height="1"/>
<rect class="br" x="777" y="235" width="1" height="34"/>
<rect class="br" x="775" y="238" width="2" height="1"/>
<rect class="br" x="778" y="262" width="2" height="1"/>
<rect class="bg" x="782" y="248" width="1" height="20"/>
<rect class="bg" x="780" y="262" width="2" height="1"/>
<rect class="bg" x="783" y="254" width="2" height="1"/>
<rect class="br" x="788" y="243" width="1" height="15"/>
<rect class="br" x="786" y="254" width="2" height="1"/>
<rect class="br" x="789" y="256" width="2" height="1"/>
<rect class="br" x="794" y="262" width="1" height="16"/>
<rect class="br" x="792" y="262" width="2" height="1"/>
<rect class="br" x="795" y="268" width="2" height="1"/>
<rect class="bg" x="799" y="260" width="1" height="23"/>
<rect class="bg" x="797" y="267" width="2" height="1"/>
<rect class="bg" x="800" y="264" width="2" height="1"/>
<rect class="br" x="805" y="261" width="1" height="12"/>
<rect class="br" x="803" y="266" width="2" height="1"/>
<rect class="br" x="806" y="266" width="2" height="1"/>
<rect class="br" x="811" y="272" width="1" height="14"/>
<rect class="br" x="809" y="273" width="2" height="1"/>
<rect class="br" x="812" y="278" width="2" height="1"/>
<rect class="bg" x="816" y="256" width="1" height="33"/>
<rect class="bg" x="814" y="282" width="2" height="1"/>
<rect class="bg" x="817" y="259" width="2" height="1"/>
<rect class="bg" x="822" y="240" width="1" height="29"/>
<rect class="bg" x="820" y="260" width="2" height="1"/>
<rect class="bg" x="823" y="241" width="2" height="1"/>
<rect class="bg" x="828" y="220" width="1" height="28"/>
<rect class="bg" x="826" y="242" width="2" height="1"/>
<rect class="bg" x="829" y="230" width="2" height="1"/>
<rect class="bg" x="833" y="214" width="1" height="21"/>
<rect class="bg" x="831" y="229" width="2" height="1"/>
<rect class="bg" x="834" y="216" width="2" height="1"/>
<rect class="bg" x="839" y="213" width="1" height="18"/>
<rect class="bg" x="837" y="216" width="2" height="1"/>
<rect class="bg" x="840" y="214" width="2" height="1"/>
<rect class="br" x="844" y="203" width="1" height="20"/>
<rect class="br" x="842" y="214" width="2" height="1"/>
<rect class="br" x="845" y="222" width="2" height="1"/>
<rect class="bg" x="850" y="210" width="1" height="25"/>
<rect class="bg" x="848" y="219" width="2" height="1"/>
<rect class="bg" x="851" y="212" width="2" height="1"/>
<rect class="bg" x="856" y="194" width="1" height="23"/>
<rect class="bg" x="854" y="212" width="2" height="1"/>
<rect class="bg" x="857" y="202" width="2" height="1"/>
<rect class="bg" x="861" y="176" width="1" height="26"/>
<rect class="bg" x="859" y="196" width="2" height="1"/>
<rect class="bg" x="862" y="176" width="2" height="1"/>
<rect class="bg" x="867" y="147" width="1" height="29"/>
<rect class="bg" x="865" y="176" width="2" height="1"/>
<rect class="bg" x="868" y="155" width="2" height="1"/>
<rect class="bg" x="873" y="135" width="1" height="21"/>
<rect class="bg" x="871" y="153" width="2" height="1"/>
<rect class="bg" x="874" y="142" width="2" height="1"/>
<rect class="bg" x="878" y="136" width="1" height="15"/>
<rect class="bg" x="876" y="141" width="2" height="1"/>
<rect class="bg" x="879" y="139" width="2" height="1"/>
<rect class="bg" x="884" y="119" width="1" height="23"/>
<rect class="bg" x="882" y="139" width="2" height="1"/>
<rect class="bg" x="885" y="121" width="2" height="1"/>
<rect class="br" x="890" y="122" width="1" height="26"/>
<rect class="br" x="888" y="122" width="2" height="1"/>
<rect class="br" x="891" y="145" width="2" height="1"/>
<rect class="br" x="895" y="137" width="1" height="33"/>
<rect class="br" x="893" y="145" width="2" height="1"/>
<rect class="br" x="896" y="164" width="2" height="1"/>
</g>
<g shape-rendering="crispEdges" fill="#000">
<rect x="170" y="52" width="9" height="1"/>
<rect x="688" y="346" width="9" height="1"/>
</g>
<text x="174.8" y="47.6" text-anchor="middle" fill="#aaaaaa">93,73</text>
<text x="692.6" y="360" text-anchor="middle" fill="#aaaaaa">47,15</text>
<text x="8" y="399" fill="#aaaaaa">1 Tick = 1 Woche</text>
<g shape-rendering="crispEdges">
<rect x="3" y="175" width="900" height="3" fill="#22b14c"/>
<rect x="227" y="51" width="676" height="3" fill="#ed1c24"/>
<ellipse cx="175.1" cy="51.4" rx="24.3" ry="25.9" fill="none" stroke="#ed1c24" stroke-width="5.2"/>
</g>
<g shape-rendering="crispEdges">
<rect class="vr" x="3" y="494" width="4" height="23"/>
<rect class="vg" x="8" y="490" width="4" height="27"/>
<rect class="vr" x="14" y="480" width="4" height="37"/>
<rect class="vg" x="20" y="494" width="4" height="23"/>
<rect class="vg" x="25" y="493" width="4" height="24"/>
<rect class="vg" x="31" y="500" width="4" height="17"/>
<rect class="vg" x="37" y="492" width="4" height="25"/>
<rect class="vr" x="42" y="492" width="4" height="25"/>
<rect class="vg" x="48" y="494" width="4" height="23"/>
<rect class="vg" x="54" y="490" width="4" height="27"/>
<rect class="vg" x="59" y="498" width="4" height="19"/>
<rect class="vg" x="65" y="493" width="4" height="24"/>
<rect class="vr" x="70" y="492" width="4" height="25"/>
<rect class="vg" x="76" y="492" width="4" height="25"/>
<rect class="vr" x="82" y="498" width="4" height="19"/>
<rect class="vr" x="87" y="482" width="4" height="35"/>
<rect class="vr" x="93" y="493" width="4" height="24"/>
<rect class="vr" x="99" y="485" width="4" height="32"/>
<rect class="vg" x="104" y="497" width="4" height="20"/>
<rect class="vg" x="110" y="476" width="4" height="41"/>
<rect class="vg" x="116" y="500" width="4" height="17"/>
<rect class="vg" x="121" y="488" width="4" height="29"/>
<rect class="vg" x="127" y="496" width="4" height="21"/>
<rect class="vg" x="132" y="499" width="4" height="18"/>
<rect class="vg" x="138" y="497" width="4" height="20"/>
<rect class="vr" x="144" y="501" width="4" height="16"/>
<rect class="vg" x="149" y="466" width="4" height="51"/>
<rect class="vg" x="155" y="489" width="4" height="28"/>
<rect class="vg" x="161" y="467" width="4" height="50"/>
<rect class="vr" x="166" y="497" width="4" height="20"/>
<rect class="vg" x="172" y="498" width="4" height="19"/>
<rect class="vr" x="178" y="482" width="4" height="35"/>
<rect class="vr" x="183" y="492" width="4" height="25"/>
<rect class="vr" x="189" y="491" width="4" height="26"/>
<rect class="vr" x="194" y="474" width="4" height="43"/>
<rect class="vg" x="200" y="477" width="4" height="40"/>
<rect class="vr" x="206" y="488" width="4" height="29"/>
<rect class="vr" x="211" y="487" width="4" height="30"/>
<rect class="vg" x="217" y="490" width="4" height="27"/>
<rect class="vg" x="223" y="475" width="4" height="42"/>
<rect class="vr" x="228" y="478" width="4" height="39"/>
<rect class="vg" x="234" y="474" width="4" height="43"/>
<rect class="vg" x="239" y="493" width="4" height="24"/>
<rect class="vg" x="245" y="492" width="4" height="25"/>
<rect class="vg" x="251" y="491" width="4" height="26"/>
<rect class="vr" x="256" y="493" width="4" height="24"/>
<rect class="vr" x="262" y="486" width="4" height="31"/>
<rect class="vr" x="268" y="486" width="4" height="31"/>
<rect class="vg" x="273" y="494" width="4" height="23"/>
<rect class="vr" x="279" y="492" width="4" height="25"/>
<rect class="vg" x="285" y="493" width="4" height="24"/>
<rect class="vg" x="290" y="488" width="4" height="29"/>
<rect class="vg" x="296" y="470" width="4" height="47"/>
<rect class="vr" x="301" y="491" width="4" height="26"/>
<rect class="vr" x="307" y="478" width="4" height="39"/>
<rect class="vg" x="313" y="497" width="4" height="20"/>
<rect class="vg" x="318" y="493" width="4" height="24"/>
<rect class="vr" x="324" y="490" width="4" height="27"/>
<rect class="vr" x="330" y="491" width="4" height="26"/>
<rect class="vg" x="335" y="485" width="4" height="32"/>
<rect class="vg" x="341" y="486" width="4" height="31"/>
<rect class="vg" x="347" y="488" width="4" height="29"/>
<rect class="vg" x="352" y="510" width="4" height="7"/>
<rect class="vr" x="358" y="504" width="4" height="13"/>
<rect class="vr" x="363" y="498" width="4" height="19"/>
<rect class="vr" x="369" y="505" width="4" height="12"/>
<rect class="vg" x="375" y="499" width="4" height="18"/>
<rect class="vr" x="380" y="489" width="4" height="28"/>
<rect class="vr" x="386" y="500" width="4" height="17"/>
<rect class="vr" x="392" y="489" width="4" height="28"/>
<rect class="vr" x="397" y="493" width="4" height="24"/>
<rect class="vr" x="403" y="496" width="4" height="21"/>
<rect class="vr" x="409" y="487" width="4" height="30"/>
<rect class="vg" x="414" y="495" width="4" height="22"/>
<rect class="vr" x="420" y="493" width="4" height="24"/>
<rect class="vg" x="425" y="493" width="4" height="24"/>
<rect class="vr" x="431" y="489" width="4" height="28"/>
<rect class="vg" x="437" y="501" width="4" height="16"/>
<rect class="vr" x="442" y="490" width="4" height="27"/>
<rect class="vr" x="448" y="495" width="4" height="22"/>
<rect class="vr" x="454" y="471" width="4" height="46"/>
<rect class="vg" x="459" y="496" width="4" height="21"/>
<rect class="vr" x="465" y="503" width="4" height="14"/>
<rect class="vg" x="471" y="502" width="4" height="15"/>
<rect class="vg" x="476" y="496" width="4" height="21"/>
<rect class="vr" x="482" y="488" width="4" height="29"/>
<rect class="vr" x="487" y="485" width="4" height="32"/>
<rect class="vr" x="493" y="480" width="4" height="37"/>
<rect class="vg" x="499" y="485" width="4" height="32"/>
<rect class="vg" x="504" y="487" width="4" height="30"/>
<rect class="vr" x="510" y="489" width="4" height="28"/>
<rect class="vg" x="516" y="484" width="4" height="33"/>
<rect class="vr" x="521" y="494" width="4" height="23"/>
<rect class="vg" x="527" y="475" width="4" height="42"/>
<rect class="vg" x="533" y="493" width="4" height="24"/>
<rect class="vg" x="538" y="497" width="4" height="20"/>
<rect class="vg" x="544" y="498" width="4" height="19"/>
<rect class="vr" x="549" y="493" width="4" height="24"/>
<rect class="vg" x="555" y="498" width="4" height="19"/>
<rect class="vr" x="561" y="489" width="4" height="28"/>
<rect class="vr" x="566" y="497" width="4" height="20"/>
<rect class="vg" x="572" y="495" width="4" height="22"/>
<rect class="vr" x="578" y="496" width="4" height="21"/>
<rect class="vr" x="583" y="496" width="4" height="21"/>
<rect class="vr" x="589" y="498" width="4" height="19"/>
<rect class="vg" x="595" y="494" width="4" height="23"/>
<rect class="vg" x="600" y="479" width="4" height="38"/>
<rect class="vr" x="606" y="495" width="4" height="22"/>
<rect class="vg" x="611" y="494" width="4" height="23"/>
<rect class="vr" x="617" y="501" width="4" height="16"/>
<rect class="vg" x="623" y="494" width="4" height="23"/>
<rect class="vg" x="628" y="496" width="4" height="21"/>
<rect class="vr" x="634" y="494" width="4" height="23"/>
<rect class="vr" x="640" y="487" width="4" height="30"/>
<rect class="vr" x="645" y="496" width="4" height="21"/>
<rect class="vr" x="651" y="499" width="4" height="18"/>
<rect class="vg" x="657" y="496" width="4" height="21"/>
<rect class="vr" x="662" y="491" width="4" height="26"/>
<rect class="vr" x="668" y="498" width="4" height="19"/>
<rect class="vg" x="673" y="473" width="4" height="44"/>
<rect class="vr" x="679" y="493" width="4" height="24"/>
<rect class="vr" x="685" y="483" width="4" height="34"/>
<rect class="vr" x="690" y="485" width="4" height="32"/>
<rect class="vg" x="696" y="485" width="4" height="32"/>
<rect class="vr" x="702" y="491" width="4" height="26"/>
<rect class="vg" x="707" y="486" width="4" height="31"/>
<rect class="vg" x="713" y="500" width="4" height="17"/>
<rect class="vr" x="718" y="493" width="4" height="24"/>
<rect class="vg" x="724" y="494" width="4" height="23"/>
<rect class="vg" x="730" y="504" width="4" height="13"/>
<rect class="vg" x="735" y="490" width="4" height="27"/>
<rect class="vg" x="741" y="493" width="4" height="24"/>
<rect class="vg" x="747" y="478" width="4" height="39"/>
<rect class="vr" x="752" y="489" width="4" height="28"/>
<rect class="vg" x="758" y="506" width="4" height="11"/>
<rect class="vg" x="764" y="496" width="4" height="21"/>
<rect class="vr" x="769" y="495" width="4" height="22"/>
<rect class="vr" x="775" y="490" width="4" height="27"/>
<rect class="vg" x="780" y="489" width="4" height="28"/>
<rect class="vr" x="786" y="500" width="4" height="17"/>
<rect class="vr" x="792" y="504" width="4" height="13"/>
<rect class="vg" x="797" y="496" width="4" height="21"/>
<rect class="vr" x="803" y="504" width="4" height="13"/>
<rect class="vr" x="809" y="489" width="4" height="28"/>
<rect class="vg" x="814" y="500" width="4" height="17"/>
<rect class="vg" x="820" y="505" width="4" height="12"/>
<rect class="vg" x="826" y="505" width="4" height="12"/>
<rect class="vg" x="831" y="506" width="4" height="11"/>
<rect class="vg" x="837" y="503" width="4" height="14"/>
<rect class="vr" x="842" y="505" width="4" height="12"/>
<rect class="vg" x="848" y="501" width="4" height="16"/>
<rect class="vg" x="854" y="499" width="4" height="18"/>
<rect class="vg" x="859" y="492" width="4" height="25"/>
<rect class="vg" x="865" y="491" width="4" height="26"/>
<rect class="vg" x="871" y="500" width="4" height="17"/>
<rect class="vg" x="876" y="501" width="4" height="16"/>
<rect class="vg" x="882" y="494" width="4" height="23"/>
<rect class="vr" x="888" y="501" width="4" height="16"/>
<rect class="vr" x="893" y="504" width="4" height="13"/>
</g>
<g fill="#000" stroke="#000" stroke-width="0.15">
<text x="902" y="30.1">100</text>
<text x="902" y="52.1">95</text>
<text x="902" y="75.1">90</text>
<text x="902" y="99.1">85</text>
<text x="902" y="125.1">80</text>
<text x="902" y="152.1">75</text>
<text x="902" y="181.1">70</text>
<text x="902" y="213.1">65</text>
<text x="902" y="247.1">60</text>
<text x="902" y="284.1">55</text>
<text x="902" y="324.1">50</text>
<text x="902" y="369.1">45</text>
<text x="902.2" y="520.0" textLength="32.4" lengthAdjust="spacingAndGlyphs">0,0Mrd</text>
<text x="902.2" y="497.7" textLength="32.4" lengthAdjust="spacingAndGlyphs">2,0Mrd</text>
<text x="902.2" y="475.3" textLength="32.4" lengthAdjust="spacingAndGlyphs">4,0Mrd</text>
<text x="902.2" y="453.0" textLength="32.4" lengthAdjust="spacingAndGlyphs">6,0Mrd</text>
<text x="28.1" y="412.5" text-anchor="middle" textLength="15.5" lengthAdjust="spacingAndGlyphs">Juli</text>
<text x="79.1" y="412.5" text-anchor="middle">Sep.</text>
<text x="130.1" y="412.5" text-anchor="middle">Nov.</text>
<text x="175.1" y="412.5" text-anchor="middle">Jan.</text>
<text x="175.1" y="425.5" text-anchor="middle">2022</text>
<text x="226.1" y="412.5" text-anchor="middle" textLength="23.2" lengthAdjust="spacingAndGlyphs">März</text>
<text x="271.1" y="412.5" text-anchor="middle" textLength="16.6" lengthAdjust="spacingAndGlyphs">Mai</text>
<text x="321.1" y="412.5" text-anchor="middle" textLength="15.5" lengthAdjust="spacingAndGlyphs">Juli</text>
<text x="372.1" y="412.5" text-anchor="middle">Sep.</text>
<text x="423.1" y="412.5" text-anchor="middle">Nov.</text>
<text x="468.1" y="412.5" text-anchor="middle">Jan.</text>
<text x="468.1" y="425.5" text-anchor="middle">2023</text>
<text x="519.1" y="412.5" text-anchor="middle" textLength="23.2" lengthAdjust="spacingAndGlyphs">März</text>
<text x="569.1" y="412.5" text-anchor="middle" textLength="16.6" lengthAdjust="spacingAndGlyphs">Mai</text>
<text x="614.1" y="412.5" text-anchor="middle" textLength="15.5" lengthAdjust="spacingAndGlyphs">Juli</text>
<text x="665.1" y="412.5" text-anchor="middle">Sep.</text>
<text x="716.1" y="412.5" text-anchor="middle">Nov.</text>
<text x="767.1" y="412.5" text-anchor="middle">Jan.</text>
<text x="767.1" y="425.5" text-anchor="middle">2024</text>
<text x="812.1" y="412.5" text-anchor="middle" textLength="23.2" lengthAdjust="spacingAndGlyphs">März</text>
<text x="862.1" y="412.5" text-anchor="middle" textLength="16.6" lengthAdjust="spacingAndGlyphs">Mai</text>
<text x="14.6" y="9.8" textLength="134.2" lengthAdjust="spacingAndGlyphs">Nextera Energy Inc. (NYSE)</text>
<text x="185" y="9.8" textLength="200.6" lengthAdjust="spacingAndGlyphs">Bollinger (20, 2): 50,087 - 65,459 - 80,831</text>
<text x="15" y="443.8" textLength="174.8" lengthAdjust="spacingAndGlyphs">Nextera Energy Inc. Volumen in USD</text>
</g>
<g shape-rendering="crispEdges" stroke="#000" stroke-width="1">
<rect x="3.5" y="2.5" width="7" height="7" fill="#cc0000"/>
<rect x="173.5" y="2.5" width="7" height="7" fill="#93a9dc"/>
<rect x="3.5" y="436.5" width="7" height="7" fill="#d96666"/>
</g>
</svg></body></html>
